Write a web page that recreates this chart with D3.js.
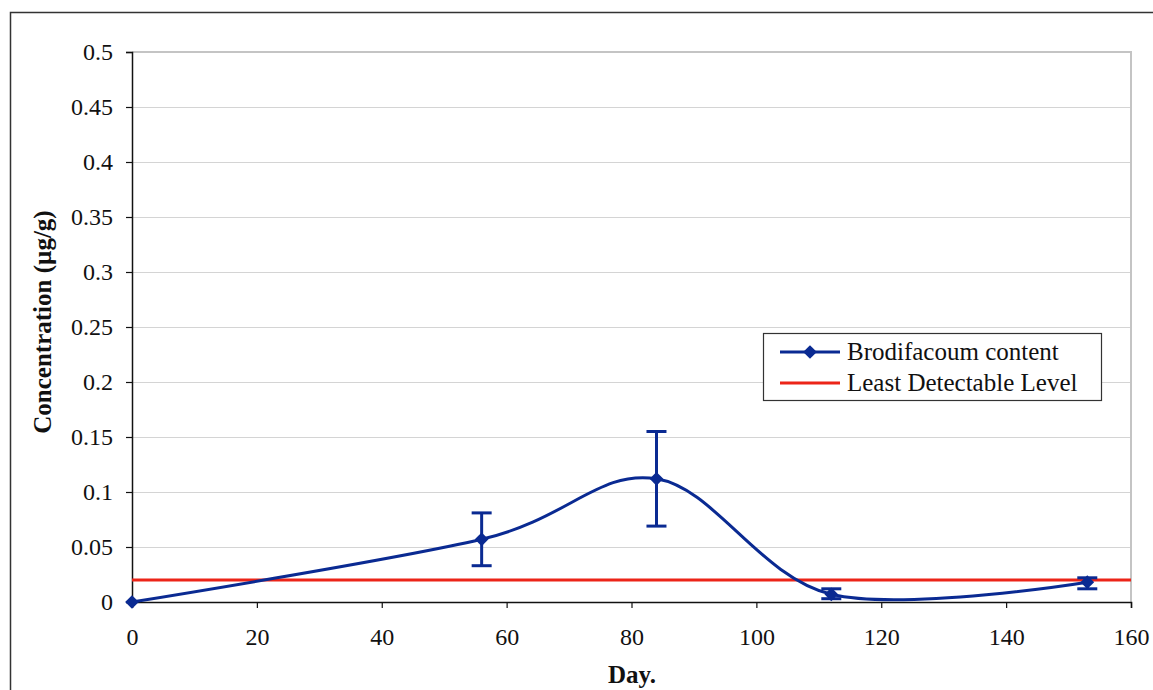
<!DOCTYPE html>
<html>
<head>
<meta charset="utf-8">
<script src="https://cdn.jsdelivr.net/npm/d3@7"></script>
<style>
  body { margin: 0; background: #fff; }
  svg { display: block; }
</style>
</head>
<body>
<div id="viz"></div>
<script>
// data
const days = [0, 56, 84, 112, 153];
const concentration = [0, 0.057, 0.112, 0.007, 0.018];
const errLow = [0, 0.033, 0.069, 0.003, 0.012];
const errHigh = [0, 0.081, 0.155, 0.012, 0.022];
const leastDetectable = 0.02;
const yTicks = [0, 0.05, 0.1, 0.15, 0.2, 0.25, 0.3, 0.35, 0.4, 0.45, 0.5];
const xTicks = [0, 20, 40, 60, 80, 100, 120, 140, 160];
const seriesNames = ["Brodifacoum content", "Least Detectable Level"];

const config = {
  width: 1153,
  height: 690,
  left: 132,
  right: 1131,
  top: 52,
  bottom: 602,
  blue: "#0a2a92",
  red: "#ec2418",
  grid: "#d4d4d4",
  font: "'Liberation Serif', 'Times New Roman', serif",
};

const svg = d3
  .select("#viz")
  .append("svg")
  .attr("width", config.width)
  .attr("height", config.height);

// outer chart frame
svg
  .append("rect")
  .attr("x", 10.5)
  .attr("y", 12.5)
  .attr("width", 1160)
  .attr("height", 700)
  .attr("fill", "#fff")
  .attr("stroke", "#333")
  .attr("stroke-width", 1.5);

const x = d3.scaleLinear().domain([0, 160]).range([config.left, config.right]);
const y = d3.scaleLinear().domain([0, 0.5]).range([config.bottom, config.top]);

// gridlines
svg
  .append("g")
  .selectAll("line")
  .data(yTicks.filter((d) => d > 0 && d < 0.5))
  .join("line")
  .attr("x1", config.left)
  .attr("x2", config.right)
  .attr("y1", (d) => Math.round(y(d)) + 0.5)
  .attr("y2", (d) => Math.round(y(d)) + 0.5)
  .attr("stroke", config.grid)
  .attr("stroke-width", 1);

// plot area border (top / right in grey)
svg
  .append("path")
  .attr("d", `M${config.left},${config.top}H${config.right}V${config.bottom}`)
  .attr("fill", "none")
  .attr("stroke", "#c4c4c4")
  .attr("stroke-width", 2);

// axes
const yAxis = d3
  .axisLeft(y)
  .tickValues(yTicks)
  .tickSize(6)
  .tickPadding(13)
  .tickFormat((d) => String(+d.toFixed(2)));
const xAxis = d3
  .axisBottom(x)
  .tickValues(xTicks)
  .tickSize(6)
  .tickPadding(20)
  .tickFormat(d3.format("d"));

const gy = svg
  .append("g")
  .attr("transform", `translate(${config.left},0)`)
  .call(yAxis);
const gx = svg
  .append("g")
  .attr("transform", `translate(0,${config.bottom})`)
  .call(xAxis);

[gx, gy].forEach((g) => {
  g.select(".domain").attr("stroke", "#111").attr("stroke-width", 1.5);
  g.selectAll(".tick line").attr("stroke", "#111").attr("stroke-width", 1.2);
  g.selectAll(".tick text")
    .attr("font-family", config.font)
    .attr("font-size", 24)
    .attr("fill", "#111");
});

// axis titles
svg
  .append("text")
  .attr("transform", `translate(51,322) rotate(-90)`)
  .attr("text-anchor", "middle")
  .attr("font-family", config.font)
  .attr("font-weight", "bold")
  .attr("font-size", 25)
  .attr("fill", "#111")
  .text("Concentration (µg/g)");

svg
  .append("text")
  .attr("x", 632)
  .attr("y", 683)
  .attr("text-anchor", "middle")
  .attr("font-family", config.font)
  .attr("font-weight", "bold")
  .attr("font-size", 25)
  .attr("fill", "#111")
  .text("Day.");

// least detectable level
svg
  .append("line")
  .attr("x1", config.left)
  .attr("x2", config.right)
  .attr("y1", y(leastDetectable))
  .attr("y2", y(leastDetectable))
  .attr("stroke", config.red)
  .attr("stroke-width", 3);

const points = days.map((d, i) => ({
  day: d,
  value: concentration[i],
  lo: errLow[i],
  hi: errHigh[i],
}));

// smoothed series line
const line = d3
  .line()
  .x((d) => x(d.day))
  .y((d) => y(d.value))
  .curve(d3.curveCatmullRom.alpha(0));

svg
  .append("path")
  .datum(points)
  .attr("d", line)
  .attr("fill", "none")
  .attr("stroke", config.blue)
  .attr("stroke-width", 3);

// error bars
const errG = svg
  .append("g")
  .selectAll("g")
  .data(points.filter((d) => d.hi > d.lo))
  .join("g")
  .attr("stroke", config.blue)
  .attr("stroke-width", 3);

errG
  .append("line")
  .attr("x1", (d) => x(d.day))
  .attr("x2", (d) => x(d.day))
  .attr("y1", (d) => y(d.lo))
  .attr("y2", (d) => y(d.hi));
errG
  .append("line")
  .attr("x1", (d) => x(d.day) - 10)
  .attr("x2", (d) => x(d.day) + 10)
  .attr("y1", (d) => y(d.lo))
  .attr("y2", (d) => y(d.lo));
errG
  .append("line")
  .attr("x1", (d) => x(d.day) - 10)
  .attr("x2", (d) => x(d.day) + 10)
  .attr("y1", (d) => y(d.hi))
  .attr("y2", (d) => y(d.hi));

// diamond markers
const diamond = d3.symbol().type(d3.symbolDiamond2).size(120);
svg
  .append("g")
  .selectAll("path")
  .data(points)
  .join("path")
  .attr("d", diamond)
  .attr("transform", (d) => `translate(${x(d.day)},${y(d.value)})`)
  .attr("fill", config.blue);

// legend
const legend = svg.append("g").attr("transform", "translate(763,333)");
legend
  .append("rect")
  .attr("x", 0.5)
  .attr("y", 0.5)
  .attr("width", 338)
  .attr("height", 67)
  .attr("fill", "#fff")
  .attr("stroke", "#333")
  .attr("stroke-width", 1.2);

const legendRows = legend
  .selectAll("g")
  .data(seriesNames)
  .join("g")
  .attr("transform", (d, i) => `translate(0,${19 + i * 31})`);

legendRows
  .append("line")
  .attr("x1", 17)
  .attr("x2", 77)
  .attr("stroke", (d, i) => (i === 0 ? config.blue : config.red))
  .attr("stroke-width", 3);

legendRows
  .filter((d, i) => i === 0)
  .append("path")
  .attr("d", diamond)
  .attr("transform", "translate(47,0)")
  .attr("fill", config.blue);

legendRows
  .append("text")
  .attr("x", 84)
  .attr("y", 8)
  .attr("font-family", config.font)
  .attr("font-size", 25)
  .attr("fill", "#111")
  .text((d) => d);
</script>
</body>
</html>
